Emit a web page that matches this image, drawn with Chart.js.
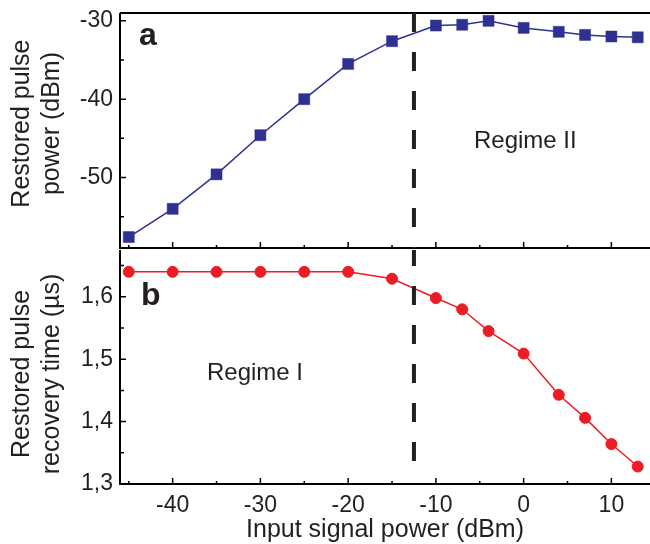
<!DOCTYPE html>
<html>
<head>
<meta charset="utf-8">
<script src="https://cdn.jsdelivr.net/npm/chart.js@4/dist/chart.umd.min.js"></script>
<style>
  body { margin: 0; background: #fff; }
  #wrap { position: relative; width: 650px; height: 544px; }
  #top { position: absolute; left: 0; top: 0; }
  #bottom { position: absolute; left: 0; top: 248px; }
</style>
</head>
<body>
<div id="wrap">
  <canvas id="top" width="650" height="250"></canvas>
  <canvas id="bottom" width="650" height="296"></canvas>
</div>
<script>
// input signal power (dBm)
const inputPower = [-45, -40, -35, -30, -25, -20, -15, -10, -7, -4, 0, 4, 7, 10, 13];
// panel a: restored pulse power (dBm)
const restoredPower = [-57.6, -54.0, -49.6, -44.6, -40.0, -35.5, -32.6, -30.6, -30.5, -30.0, -30.9, -31.4, -31.8, -32.0, -32.1];
// panel b: restored pulse recovery time (µs)
const recoveryTime = [1.64, 1.64, 1.64, 1.64, 1.64, 1.64, 1.629, 1.598, 1.580, 1.545, 1.509, 1.443, 1.406, 1.364, 1.328];

const xTicks = [-40, -30, -20, -10, 0, 10];
const xMinorTicks = [-45, -35, -25, -15, -5, 5];
const powerTicks = [-50, -40, -30];
const powerMinorTicks = [-55, -45, -35];
const timeTicks = [1.3, 1.4, 1.5, 1.6];
const timeMinorTicks = [1.35, 1.45, 1.55, 1.65];

const regimeBoundary = -12.5;
const boundaryEndTime = 1.335;

const FONT = "'Liberation Sans', Arial, sans-serif";
const BLUE = '#2e3192';
const RED = '#ed1c24';

// frame lines and inward tick marks
const framePlugin = {
  id: 'frame',
  beforeDatasetsDraw(chart, args, opts) {
    const { ctx, chartArea: a, scales } = chart;
    ctx.save();
    ctx.strokeStyle = '#000';
    ctx.lineWidth = 2;
    ctx.beginPath();
    ctx.moveTo(a.left, a.top);
    ctx.lineTo(a.left, a.bottom);
    ctx.lineTo(a.right, a.bottom);
    if (opts.top) {
      ctx.moveTo(a.left, a.top);
      ctx.lineTo(a.right, a.top);
    }
    ctx.stroke();
    ctx.lineWidth = 1.5;
    ctx.beginPath();
    xTicks.forEach(v => {
      const x = scales.x.getPixelForValue(v);
      ctx.moveTo(x, a.bottom); ctx.lineTo(x, a.bottom - 6);
    });
    xMinorTicks.forEach(v => {
      const x = scales.x.getPixelForValue(v);
      ctx.moveTo(x, a.bottom); ctx.lineTo(x, a.bottom - 3);
    });
    opts.yMajor.forEach(v => {
      const y = scales.y.getPixelForValue(v);
      ctx.moveTo(a.left, y); ctx.lineTo(a.left + 6, y);
    });
    opts.yMinor.forEach(v => {
      const y = scales.y.getPixelForValue(v);
      ctx.moveTo(a.left, y); ctx.lineTo(a.left + 4, y);
    });
    ctx.stroke();
    ctx.restore();
  }
};

const labelPlugin = {
  id: 'labels',
  afterDraw(chart, args, opts) {
    const ctx = chart.ctx;
    ctx.save();
    ctx.fillStyle = '#231f20';
    ctx.textBaseline = 'alphabetic';
    opts.items.forEach(t => {
      ctx.font = t.font;
      ctx.fillText(t.text, t.x, t.y);
    });
    ctx.restore();
  }
};

function points(ys) {
  return inputPower.map((x, i) => ({ x, y: ys[i] }));
}

function yAxis(min, max, ticks, fmt, title) {
  return {
    min, max,
    afterFit: s => { s.width = 120; s.paddingTop = 0; s.paddingBottom = 0; },
    afterBuildTicks: s => { s.ticks = ticks.map(v => ({ value: v })); },
    grid: { display: false, drawTicks: false },
    border: { display: false },
    ticks: { padding: 7, color: '#231f20', font: { family: FONT, size: 23 }, callback: fmt },
    title: {
      display: true, text: title, color: '#231f20',
      font: { family: FONT, size: 25, lineHeight: 1.2 },
      padding: { top: 7, bottom: 0 }
    }
  };
}

const xRange = { min: -46, max: 14.4 };

new Chart(document.getElementById('top'), {
  type: 'line',
  data: {
    datasets: [
      {
        data: [{ x: regimeBoundary, y: -29 }, { x: regimeBoundary, y: -59 }],
        borderColor: '#231f20', borderWidth: 4, borderDash: [19, 20],
        pointRadius: 0, order: 0
      },
      {
        data: points(restoredPower),
        borderColor: BLUE, borderWidth: 1.5,
        pointStyle: 'rect', pointRadius: 7.8,
        pointBackgroundColor: BLUE, pointBorderColor: BLUE, pointBorderWidth: 0.5,
        order: 1
      }
    ]
  },
  options: {
    responsive: false,
    animation: false,
    layout: { autoPadding: false, padding: { top: 13, bottom: 2, left: 0, right: 0 } },
    plugins: {
      legend: { display: false },
      tooltip: { enabled: false },
      frame: { top: true, yMajor: powerTicks, yMinor: powerMinorTicks },
      labels: {
        items: [
          { text: 'a', x: 139, y: 45, font: `bold 32px ${FONT}` },
          { text: 'Regime II', x: 474, y: 148, font: `24px ${FONT}` }
        ]
      }
    },
    scales: {
      x: { type: 'linear', ...xRange, display: false },
      y: yAxis(-59, -29, powerTicks, v => String(v), ['  Restored pulse', '  power (dBm)'])
    }
  },
  plugins: [framePlugin, labelPlugin]
});

new Chart(document.getElementById('bottom'), {
  type: 'line',
  data: {
    datasets: [
      {
        data: [{ x: regimeBoundary, y: 1.675 }, { x: regimeBoundary, y: boundaryEndTime }],
        borderColor: '#231f20', borderWidth: 4, borderDash: [19, 20], borderDashOffset: 3,
        pointRadius: 0, order: 0
      },
      {
        data: points(recoveryTime),
        borderColor: RED, borderWidth: 1.5,
        pointStyle: 'circle', pointRadius: 5.5,
        pointBackgroundColor: RED, pointBorderColor: RED, pointBorderWidth: 1,
        order: 1
      }
    ]
  },
  options: {
    responsive: false,
    animation: false,
    layout: { autoPadding: false, padding: { top: 2, bottom: 0, left: 0, right: 0 } },
    plugins: {
      legend: { display: false },
      tooltip: { enabled: false },
      frame: { top: false, yMajor: timeTicks, yMinor: timeMinorTicks },
      labels: {
        items: [
          { text: 'b', x: 141, y: 57, font: `bold 32px ${FONT}` },
          { text: 'Regime I', x: 207, y: 132, font: `24px ${FONT}` }
        ]
      }
    },
    scales: {
      x: {
        type: 'linear', ...xRange,
        afterFit: s => { s.height = 60; s.paddingLeft = 0; s.paddingRight = 0; },
        afterBuildTicks: s => { s.ticks = xTicks.map(v => ({ value: v })); },
        grid: { display: false, drawTicks: false },
        border: { display: false },
        ticks: { padding: 8, color: '#231f20', maxRotation: 0, font: { family: FONT, size: 23 }, callback: v => String(v) },
        title: {
          display: true, text: 'Input signal power (dBm)', color: '#231f20',
          font: { family: FONT, size: 25, lineHeight: 1.12 },
          padding: { top: 0, bottom: 0 }
        }
      },
      y: yAxis(1.3, 1.675, timeTicks, v => v.toFixed(1).replace('.', ','), ['Restored pulse  ', 'recovery time (\u00b5s)  '])
    }
  },
  plugins: [framePlugin, labelPlugin]
});
</script>
</body>
</html>
